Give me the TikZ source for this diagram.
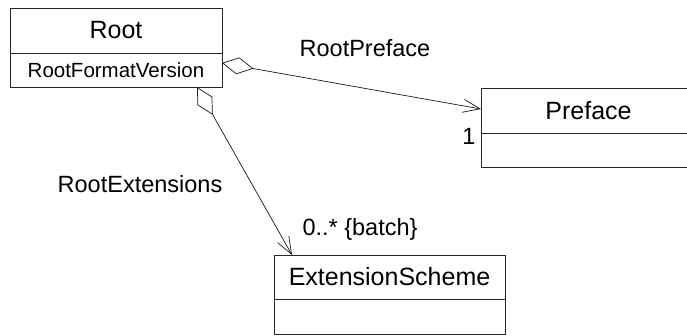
\documentclass[tikz,border=0pt]{standalone}
\usepackage{fontspec}
\setmainfont{Liberation Sans}
\usetikzlibrary{arrows.meta}

\tikzset{
  compartment/.style={draw=black!85, line width=0.8pt, anchor=north west,
    inner sep=0pt, outer sep=0pt, align=center},
  classname/.style={compartment, font=\fontsize{25}{28}\selectfont},
  attrs/.style={compartment, font=\fontsize{20.5}{24}\selectfont},
  rolelabel/.style={font=\fontsize{23.5}{27}\selectfont, inner sep=0pt},
  aggregation/.style={line width=0.7pt, draw=black!90,
    {Diamond[open, length=32pt, width=17pt, line width=0.7pt]}-{Straight Barb[length=17pt, width=13pt, line width=0.7pt]}}
}

\begin{document}
\begin{tikzpicture}[x=1pt, y=-1pt]
  \useasboundingbox (0,0) rectangle (687,335);

  % class Root
  \node[classname, minimum width=212pt, minimum height=45pt] (rootname) at (10,8) {Root};
  \node[attrs, minimum width=212pt, minimum height=34pt] (rootattr) at (rootname.south west) {RootFormatVersion};

  % class Preface (runs past the right edge)
  \begin{scope}
    \clip (0,0) rectangle (687,335);
    \node[classname, minimum width=230pt, minimum height=45pt] (prefname) at (481,88) {\hspace*{-15pt}Preface};
    \node[attrs, minimum width=230pt, minimum height=34pt] (prefbody) at (prefname.south west) {};
  \end{scope}

  % class ExtensionScheme
  \node[classname, minimum width=231pt, minimum height=44pt] (extname) at (274,255) {ExtensionScheme};
  \node[attrs, minimum width=231pt, minimum height=35pt] (extbody) at (extname.south west) {};

  % association end points
  \coordinate (rootE) at ([yshift=-10pt]rootattr.north east);
  \coordinate (prefW) at ([yshift=-21pt]prefname.north west);
  \coordinate (rootS) at ([xshift=187pt]rootattr.south west);
  \coordinate (extN)  at ([xshift=18pt]extname.north west);

  % aggregations
  \draw[aggregation] (rootE) -- (prefW);
  \draw[aggregation] (rootS) -- (extN);

  % role names and multiplicities
  \node[rolelabel] (lblpref) at (365,48) {RootPreface};
  \node[rolelabel] (lblext)  at (140,184) {RootExtensions};
  \node[rolelabel] (mulpref) at (469,136) {1};
  \node[rolelabel] (mulext)  at (360,229) {0..* \{batch\}};
\end{tikzpicture}
\end{document}
